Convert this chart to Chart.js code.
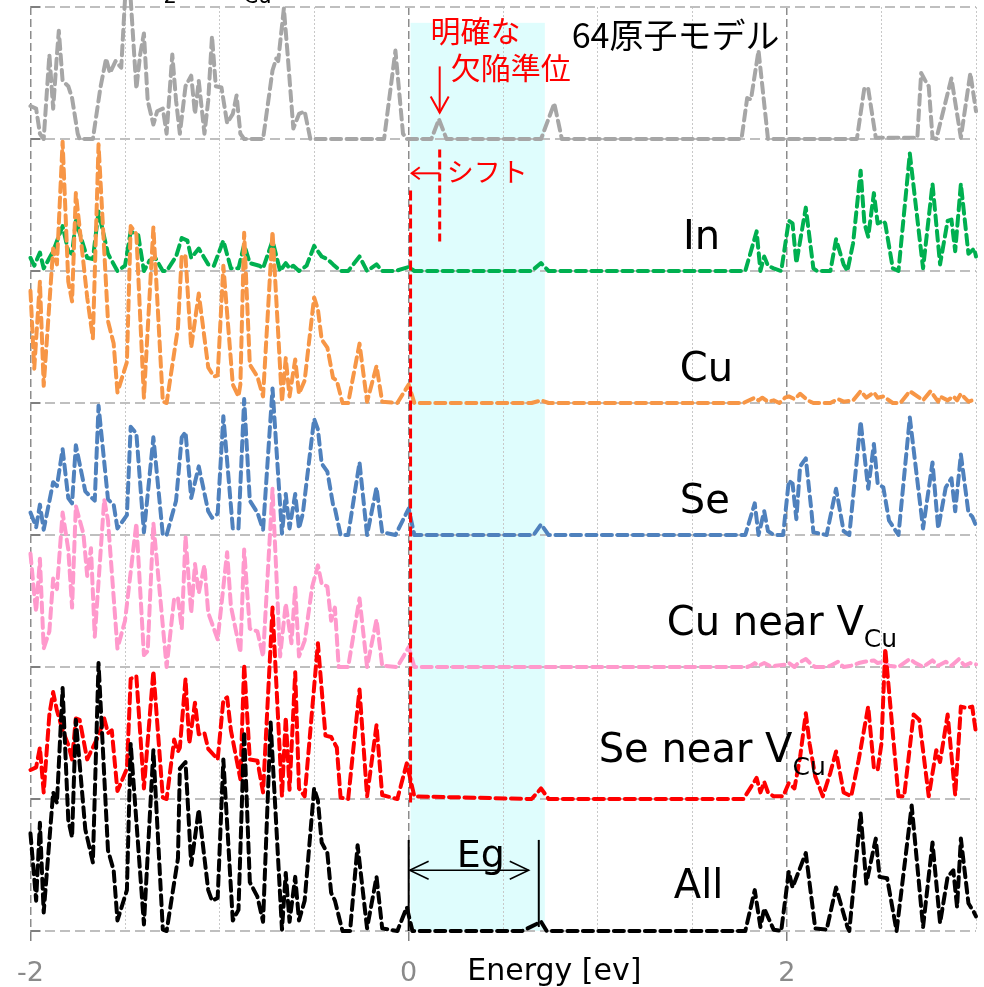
<!DOCTYPE html>
<html>
<head>
<meta charset="utf-8">
<script src="https://cdn.jsdelivr.net/npm/chart.js@4.4.1/dist/chart.umd.min.js"></script>
<style>
  body { margin: 0; background: #fff; }
  #c { display: block; }
</style>
</head>
<body>
<canvas id="c" width="984" height="987"></canvas>
<script>
// tick labels
var majorTicks = [-2, 0, 2];
var minorTicks = [-2, -1.5, -1, -0.5, 0, 0.5, 1, 1.5, 2, 2.5, 3];

// All
var allX = [-2.00,-1.97,-1.95,-1.93,-1.88,-1.86,-1.83,-1.80,-1.78,-1.76,-1.71,-1.67,-1.64,-1.59,-1.56,-1.54,-1.49,-1.47,-1.40,-1.35,-1.30,-1.28,-1.22,-1.21,-1.18,-1.15,-1.11,-1.06,-1.04,-1.01,-0.98,-0.93,-0.90,-0.87,-0.84,-0.80,-0.77,-0.73,-0.67,-0.65,-0.63,-0.60,-0.58,-0.55,-0.50,-0.48,-0.46,-0.43,-0.41,-0.39,-0.35,-0.31,-0.27,-0.22,-0.17,-0.14,-0.06,-0.01,0.02,
  0.60,0.70,0.73,
  1.78,1.83,1.86,1.88,1.93,1.97,2.01,2.03,2.10,2.15,2.21,2.26,2.32,2.33,2.39,2.42,2.47,2.49,2.53,2.58,2.66,2.72,2.77,2.81,2.85,2.88,2.90,2.92,2.96,2.99,3.00];
var allY = [0.74,0.23,0.82,0.14,1.05,0.97,1.84,0.84,0.71,1.60,0.77,0.52,2.03,0.61,0.46,0.08,0.31,1.42,0.05,1.37,0.01,0,0.55,1.23,1.28,0.50,0.92,0.31,0.23,0.25,1.30,0.08,0.16,1.51,0.37,0.26,0.07,1.58,0.01,0.44,0.07,0.41,0.08,0.23,1.08,0.99,0.67,0.59,0.29,0.23,0,0,0.65,0.02,0.41,0.02,0,0.18,0,
  0,0.07,0,
  0,0.31,0.03,0.17,0.01,0,0.45,0.33,0.59,0.02,0.01,0.33,0.03,0,0.89,0.36,0.70,0.41,0.40,0,0.95,0.03,0.67,0.06,0.41,0.46,0.18,0.70,0.21,0.14,0.11];

// Se near V_Cu
var seNearX = [-2.00,-1.97,-1.95,-1.93,-1.90,-1.88,-1.86,-1.83,-1.80,-1.78,-1.76,-1.74,-1.70,-1.67,-1.64,-1.61,-1.59,-1.57,-1.54,-1.49,-1.47,-1.44,-1.40,-1.35,-1.30,-1.28,-1.24,-1.22,-1.21,-1.18,-1.16,-1.13,-1.11,-1.08,-1.06,-1.01,-0.98,-0.96,-0.94,-0.89,-0.87,-0.84,-0.80,-0.77,-0.72,-0.67,-0.65,-0.63,-0.60,-0.58,-0.55,-0.48,-0.44,-0.41,-0.38,-0.36,-0.32,-0.26,-0.22,-0.17,-0.14,-0.06,-0.01,0.03,
  0.65,0.70,0.74,
  1.77,1.81,1.84,1.86,1.88,1.90,1.93,1.98,2.01,2.04,2.07,2.10,2.12,2.15,2.19,2.23,2.26,2.30,2.34,2.38,2.43,2.46,2.48,2.50,2.52,2.56,2.59,2.62,2.67,2.70,2.75,2.79,2.81,2.85,2.89,2.92,2.95,2.98,3.00];
var seNearY = [0.22,0.24,0.39,0.05,0.64,0.81,0.67,0.52,0.41,0.30,0.61,0.60,0.30,0.39,0.48,0.61,0.50,0.52,0.06,0.23,0.91,0.93,0.08,0.97,0.01,0,0.45,0.36,0.39,0.91,0.42,0.73,0.49,0.50,0.38,0.30,0.75,0.77,0.52,0.15,1.02,0.30,0.29,0.05,1.45,0.02,0.62,0.07,0.96,0.08,0.02,1.18,0.48,0.47,0.39,0.01,0,0.83,0.02,0.56,0.03,0,0.27,0.02,
  0,0.08,0,
  0,0.09,0.16,0.05,0.13,0.05,0.02,0.02,0.12,0.08,0.32,0.65,0.42,0.17,0.02,0.20,0.36,0.05,0.02,0.30,0.70,0.24,0.22,0.42,1.14,0.50,0.02,0.02,0.64,0.60,0.02,0.37,0.28,0.64,0.03,0.70,0.69,0.70,0.50];

// Cu near V_Cu
var cuNearX = [-2.00,-1.98,-1.97,-1.95,-1.93,-1.90,-1.88,-1.86,-1.83,-1.80,-1.78,-1.76,-1.72,-1.70,-1.68,-1.66,-1.61,-1.59,-1.54,-1.50,-1.44,-1.40,-1.38,-1.35,-1.28,-1.24,-1.22,-1.20,-1.18,-1.15,-1.13,-1.11,-1.08,-1.06,-1.01,-0.96,-0.94,-0.89,-0.87,-0.84,-0.80,-0.77,-0.72,-0.68,-0.65,-0.62,-0.60,-0.58,-0.55,-0.51,-0.48,-0.46,-0.43,-0.41,-0.39,-0.37,-0.32,-0.26,-0.22,-0.17,-0.14,-0.06,0.00,0.03,
  1.79,1.81,1.83,1.85,1.88,1.92,1.94,2.00,2.01,2.04,2.06,2.10,2.13,2.15,2.21,2.23,2.27,2.30,2.34,2.38,2.41,2.46,2.48,2.51,2.54,2.59,2.60,2.65,2.68,2.72,2.77,2.80,2.84,2.87,2.91,2.94,2.97,3.00];
var cuNearY = [0.86,0.55,0.42,0.82,0.14,0.27,0.67,0.59,1.17,0.89,0.45,1.22,1.01,0.69,0.90,0.23,1.27,1.11,0.14,0.35,1.09,0.09,0.12,1.09,0,0.52,0.52,0.29,0.99,0.41,0.78,0.56,0.77,0.41,0.21,0.87,0.46,0.11,0.89,0.29,0.27,0.08,1.35,0.08,0.48,0.18,0.60,0.08,0.20,0.61,0.77,0.63,0.61,0.35,0.45,0,0,0.52,0,0.36,0.01,0,0.15,0,
  0,0.01,0.03,0.01,0.03,0,0.01,0.02,0.03,0,0.03,0.06,0.02,0,0,0.01,0.04,0,0.01,0.03,0.04,0.05,0.03,0.04,0.01,0,0.01,0.06,0.03,0,0.05,0.01,0.04,0.01,0.06,0.01,0.03,0.02];

// Se
var seX = [-2.00,-1.97,-1.95,-1.93,-1.88,-1.86,-1.83,-1.80,-1.78,-1.76,-1.71,-1.66,-1.64,-1.59,-1.56,-1.54,-1.49,-1.47,-1.44,-1.40,-1.35,-1.30,-1.28,-1.23,-1.20,-1.18,-1.15,-1.11,-1.06,-1.04,-1.01,-0.98,-0.93,-0.90,-0.87,-0.84,-0.80,-0.77,-0.72,-0.67,-0.65,-0.63,-0.60,-0.58,-0.56,-0.50,-0.48,-0.46,-0.43,-0.40,-0.39,-0.36,-0.32,-0.26,-0.22,-0.17,-0.14,-0.07,0.00,0.03,
  0.66,0.70,0.74,
  1.78,1.83,1.85,1.88,1.90,1.93,1.98,2.01,2.03,2.05,2.07,2.10,2.13,2.14,2.21,2.26,2.30,2.33,2.39,2.43,2.46,2.48,2.51,2.54,2.59,2.65,2.72,2.77,2.80,2.84,2.87,2.89,2.92,2.96,2.98,3.00];
var seY = [0.17,0.06,0.23,0.04,0.40,0.37,0.65,0.28,0.24,0.68,0.33,0.26,0.98,0.27,0.23,0.05,0.15,0.82,0.77,0.02,0.74,0,0,0.26,0.74,0.78,0.28,0.52,0.18,0.13,0.16,0.90,0.05,0.05,1.03,0.26,0.17,0.04,1.11,0.01,0.31,0.05,0.31,0.05,0.16,0.88,0.80,0.54,0.48,0.23,0.20,0,0,0.55,0,0.36,0.02,0,0.20,0,
  0,0.08,0,
  0,0.24,0,0.18,0.03,0,0,0.41,0.39,0.12,0.52,0.58,0.18,0.02,0,0.35,0.03,0,0.86,0.35,0.69,0.39,0.36,0.11,0,0.89,0.05,0.55,0.05,0.36,0.43,0.18,0.61,0.17,0.14,0.07];

// Cu
var cuX = [-2.00,-1.98,-1.95,-1.93,-1.88,-1.86,-1.83,-1.80,-1.78,-1.76,-1.70,-1.67,-1.64,-1.59,-1.56,-1.54,-1.49,-1.47,-1.44,-1.40,-1.35,-1.30,-1.28,-1.22,-1.20,-1.18,-1.15,-1.11,-1.06,-1.03,-1.01,-0.98,-0.93,-0.90,-0.89,-0.87,-0.84,-0.80,-0.77,-0.72,-0.67,-0.65,-0.63,-0.60,-0.58,-0.55,-0.50,-0.48,-0.46,-0.43,-0.40,-0.38,-0.35,-0.32,-0.26,-0.22,-0.17,-0.14,-0.06,0.00,0.03,
  0.65,0.70,0.74,
  1.77,1.83,1.85,1.87,1.90,1.93,1.96,1.99,2.01,2.04,2.07,2.11,2.14,2.23,2.27,2.30,2.35,2.39,2.42,2.46,2.48,2.51,2.56,2.60,2.65,2.70,2.72,2.76,2.80,2.81,2.85,2.88,2.90,2.92,2.96,2.98,3.00];
var cuY = [0.85,0.26,0.92,0.13,1.17,1.05,1.98,0.92,0.77,1.59,0.80,0.49,1.96,0.62,0.45,0.08,0.31,1.34,1.28,0.04,1.33,0.01,0,0.57,1.12,1.11,0.42,0.83,0.27,0.20,0.21,1.04,0.14,0.05,0.14,1.29,0.29,0.20,0.05,1.30,0.01,0.34,0.05,0.33,0.07,0.17,0.80,0.71,0.48,0.42,0.19,0.17,0,0,0.45,0.01,0.28,0.01,0,0.14,0,
  0,0.02,0,
  0,0.04,0.02,0.04,0.01,0.02,0,0.04,0.05,0.03,0.07,0.02,0,0,0.03,0.01,0.02,0.09,0.04,0.08,0.04,0.05,0,0,0.09,0.04,0.02,0.09,0.01,0.05,0.02,0.05,0.02,0.07,0.01,0.02,0.02];

// In
var inX = [-2.00,-1.98,-1.95,-1.93,-1.88,-1.83,-1.80,-1.78,-1.76,-1.70,-1.67,-1.64,-1.59,-1.54,-1.50,-1.47,-1.43,-1.40,-1.37,-1.34,-1.30,-1.28,-1.23,-1.20,-1.17,-1.15,-1.11,-1.06,-1.03,-0.98,-0.94,-0.90,-0.87,-0.84,-0.79,-0.77,-0.72,-0.68,-0.65,-0.63,-0.61,-0.58,-0.54,-0.50,-0.46,-0.43,-0.40,-0.36,-0.32,-0.26,-0.22,-0.17,-0.14,-0.07,0.00,0.03,
  0.65,0.70,0.74,
  1.78,1.84,1.86,1.88,1.90,1.93,1.97,2.01,2.03,2.05,2.10,2.14,2.16,2.23,2.26,2.30,2.32,2.35,2.39,2.41,2.43,2.46,2.48,2.51,2.52,2.56,2.59,2.65,2.72,2.77,2.81,2.85,2.87,2.89,2.92,2.96,2.99,3.00];
var inY = [0.10,0.04,0.14,0.02,0.15,0.34,0.15,0.13,0.38,0.10,0.09,0.45,0.13,0,0.04,0.30,0.27,0,0.08,0.10,0,0,0.11,0.25,0.23,0.10,0.17,0.05,0.04,0.23,0.02,0.02,0.20,0.06,0.04,0.02,0.23,0,0.06,0.02,0.04,0,0.04,0.19,0.11,0.09,0.05,0,0,0.11,0,0.05,0,0,0.03,0,
  0,0.06,0,
  0,0.30,0,0.11,0.04,0.02,0,0.38,0.36,0.06,0.48,0.02,0,0,0.24,0.05,0,0.21,0.76,0.36,0.26,0.59,0.36,0.38,0.36,0.02,0,0.89,0.02,0.66,0.05,0.38,0.39,0.15,0.66,0.13,0.17,0.11];

// 64-atom model (top panel)
var topX = [-2.00,-1.97,-1.95,-1.93,-1.90,-1.88,-1.86,-1.85,-1.83,-1.80,-1.78,-1.75,-1.74,-1.67,-1.63,-1.60,-1.58,-1.55,-1.52,-1.50,-1.47,-1.44,-1.42,-1.40,-1.38,-1.35,-1.33,-1.30,-1.28,-1.25,-1.23,-1.21,-1.18,-1.15,-1.13,-1.11,-1.08,-1.06,-1.04,-1.02,-0.99,-0.96,-0.93,-0.91,-0.89,-0.87,-0.77,-0.72,-0.70,-0.69,-0.66,-0.64,-0.61,-0.58,-0.55,-0.52,-0.13,-0.07,-0.03,-0.01,
  0.12,0.16,0.20,0.70,0.77,0.81,1.76,1.79,1.81,1.85,1.90,2.37,2.41,2.43,2.47,2.69,2.71,2.74,2.75,2.77,2.79,2.87,2.92,2.97,3.00];
var topY = [0.25,0.23,0.04,0,0.64,0.23,0.64,0.82,0.44,0.40,0.31,0.04,0,0,0.39,0.61,0.50,0.59,0.54,1.06,1.06,0.38,0.64,0.80,0.29,0.11,0.21,0.23,0.04,0.64,0.29,0.04,0.40,0.48,0.19,0.44,0.04,0.29,0.78,0.40,0.39,0.12,0.19,0.33,0.04,0,0,0.52,0.61,0.59,0.99,0.64,0.08,0.19,0.21,0,0,0.67,0.04,0,
  0,0.15,0,0,0.27,0,0,0.31,0.30,0.67,0,0,0.39,0.38,0.01,0.01,0.50,0.42,0.40,0.01,0,0.46,0.01,0.50,0.21];

// first one is drawn on top
var series = [
  { label: 'All',          xs: allX,    ys: allY,    offset: 0, color: '#000000' },
  { label: 'Se near VCu',  xs: seNearX, ys: seNearY, offset: 1, color: '#FF0000' },
  { label: 'Cu near VCu',  xs: cuNearX, ys: cuNearY, offset: 2, color: '#FF99CC' },
  { label: 'Se',           xs: seX,     ys: seY,     offset: 3, color: '#4F81BD' },
  { label: 'Cu',           xs: cuX,     ys: cuY,     offset: 4, color: '#F79646' },
  { label: 'In',           xs: inX,     ys: inY,     offset: 5, color: '#00B050' },
  { label: '64',           xs: topX,    ys: topY,    offset: 6, color: '#A6A6A6' }
];

var JP = '"Noto Sans CJK JP", sans-serif';
var EN = '"DejaVu Sans", sans-serif';

function line(ctx, pts, color, w, dash) {
  ctx.save();
  ctx.strokeStyle = color;
  ctx.lineWidth = w;
  ctx.setLineDash(dash || []);
  ctx.beginPath();
  ctx.moveTo(pts[0][0], pts[0][1]);
  for (var i = 1; i < pts.length; i++) ctx.lineTo(pts[i][0], pts[i][1]);
  ctx.stroke();
  ctx.restore();
}

function text(ctx, s, x, y, font, color, base) {
  ctx.save();
  ctx.font = font;
  ctx.fillStyle = color;
  ctx.textAlign = 'left';
  ctx.textBaseline = base || 'alphabetic';
  ctx.fillText(s, x, y);
  var w = ctx.measureText(s).width;
  ctx.restore();
  return w;
}

var overlay = {
  id: 'overlay',
  beforeDraw: function (chart) {
    var ctx = chart.ctx, X = chart.scales.x, Y = chart.scales.y;
    // band gap area
    var x0 = X.getPixelForValue(0.01), x1 = X.getPixelForValue(0.72);
    var y0 = Y.getPixelForValue(6.88), y1 = Y.getPixelForValue(0);
    ctx.save();
    ctx.fillStyle = '#DFFDFD';
    ctx.fillRect(x0, y0, x1 - x0, y1 - y0);
    ctx.restore();
  },
  afterDatasetsDraw: function (chart) {
    var ctx = chart.ctx, X = chart.scales.x, Y = chart.scales.y;
    var px = function (v) { return X.getPixelForValue(v); };
    var py = function (v) { return Y.getPixelForValue(v); };
    var left = chart.chartArea.left;

    // little inside ticks on the left axis
    for (var k = 0; k <= 7; k++) {
      line(ctx, [[left, py(k)], [left + 10, py(k)]], '#7f7f7f', 2);
    }

    // red: shift of the defect level
    line(ctx, [[px(0.01), py(5.61)], [px(0.01), py(0.95)]], '#FF0000', 3, [10, 4]);
    line(ctx, [[px(0.164), py(5.92)], [px(0.164), py(5.20)]], '#FF0000', 3, [8, 4]);
    var ay = py(5.74);
    line(ctx, [[px(0.016), ay], [px(0.164), ay]], '#FF0000', 2);
    line(ctx, [[px(0.016) + 8, ay - 6], [px(0.016), ay], [px(0.016) + 8, ay + 6]], '#FF0000', 2);
    // arrow to the defect level
    var dx = px(0.164);
    line(ctx, [[dx, py(6.55)], [dx, py(6.20)]], '#FF0000', 2);
    line(ctx, [[dx - 9, py(6.20) - 16], [dx, py(6.20)], [dx + 9, py(6.20) - 16]], '#FF0000', 2);

    text(ctx, '明確な', px(0.116), py(6.82), '30px ' + JP, '#FF0000', 'middle');
    text(ctx, '欠陥準位', px(0.222), py(6.54), '30px ' + JP, '#FF0000', 'middle');
    text(ctx, 'シフト', px(0.201), py(5.75), '27px ' + JP, '#FF0000', 'middle');
    text(ctx, '64原子モデル', px(0.862), py(6.79), '34px ' + JP, '#000000', 'middle');

    // cut-off title at the top
    text(ctx, '2', px(-1.296), py(7.03), '21px ' + EN, '#000000');
    text(ctx, 'Cu', px(-0.873), py(7.03), '21px ' + EN, '#000000');

    // band gap arrow
    var gy = py(0.46);
    line(ctx, [[px(0), py(0)], [px(0), py(0.69)]], '#000000', 2);
    line(ctx, [[px(0.688), py(0.03)], [px(0.688), py(0.69)]], '#000000', 2);
    line(ctx, [[px(0.005), gy], [px(0.635), gy]], '#000000', 1.5);
    line(ctx, [[px(0.005) + 19, gy - 9], [px(0.005), gy], [px(0.005) + 19, gy + 9]], '#000000', 1.5);
    line(ctx, [[px(0.635) - 19, gy - 9], [px(0.635), gy], [px(0.635) - 19, gy + 9]], '#000000', 1.5);
    text(ctx, 'Eg', px(0.254), py(0.485), '38px ' + EN, '#000000');

    // series names
    text(ctx, 'In', px(1.45), py(5.17), '40px ' + EN, '#000000');
    text(ctx, 'Cu', px(1.434), py(4.17), '40px ' + EN, '#000000');
    text(ctx, 'Se', px(1.434), py(3.17), '40px ' + EN, '#000000');
    var w1 = text(ctx, 'Cu near V', px(1.365), py(2.24), '40px ' + EN, '#000000');
    text(ctx, 'Cu', px(1.365) + w1, py(2.15), '25px ' + EN, '#000000');
    var w2 = text(ctx, 'Se near V', px(1.005), py(1.28), '40px ' + EN, '#000000');
    text(ctx, 'Cu', px(1.005) + w2, py(1.18), '25px ' + EN, '#000000');
    text(ctx, 'All', px(1.402), py(0.25), '40px ' + EN, '#000000');

    // axis title
    text(ctx, 'Energy [ev]', px(0.31), chart.chartArea.bottom + 49, '30px ' + EN, '#000000');
  }
};

new Chart(document.getElementById('c'), {
  type: 'line',
  data: {
    datasets: series.map(function (s) {
      return {
        label: s.label,
        data: s.xs.map(function (x, i) { return { x: x, y: s.ys[i] + s.offset }; }),
        borderColor: s.color,
        borderWidth: 4,
        borderDash: [10, 5.5],
        borderCapStyle: 'round',
        borderJoinStyle: 'round',
        pointRadius: 0,
        tension: 0,
        fill: false,
        clip: false
      };
    })
  },
  options: {
    responsive: false,
    animation: false,
    devicePixelRatio: 1,
    layout: { padding: { top: 7, left: 30, right: 8, bottom: 0 } },
    plugins: { legend: { display: false }, tooltip: { enabled: false } },
    scales: {
      x: {
        type: 'linear', min: -2, max: 3, position: 'bottom',
        afterBuildTicks: function (s) { s.ticks = majorTicks.map(function (v) { return { value: v }; }); },
        afterFit: function (s) { s.height = 56; },
        ticks: { color: '#8a8a8a', font: { family: EN, size: 27 }, padding: 17, maxRotation: 0,
                 callback: function (v) { return String(v); } },
        grid: { color: '#8c8c8c', lineWidth: 1.5, drawTicks: true, tickLength: 10, tickColor: '#808080', tickWidth: 1.5 },
        border: { display: false, dash: [8, 4] }
      },
      xMinor: {
        type: 'linear', min: -2, max: 3, position: 'bottom',
        afterBuildTicks: function (s) { s.ticks = minorTicks.map(function (v) { return { value: v }; }); },
        afterFit: function (s) { s.height = 0; },
        ticks: { display: false },
        grid: {
          color: function (c) { return majorTicks.indexOf(c.tick && c.tick.value) >= 0 ? 'rgba(0,0,0,0)' : '#c8c8c8'; },
          lineWidth: 1, drawTicks: false
        },
        border: { display: false, dash: [2, 2] }
      },
      y: {
        min: 0, max: 7,
        afterFit: function (s) { s.width = 0; },
        ticks: { display: false, stepSize: 1 },
        grid: { color: '#bfbfbf', lineWidth: 2, drawTicks: false },
        border: { display: false, dash: [10, 5] }
      }
    }
  },
  plugins: [overlay]
});
</script>
</body>
</html>
